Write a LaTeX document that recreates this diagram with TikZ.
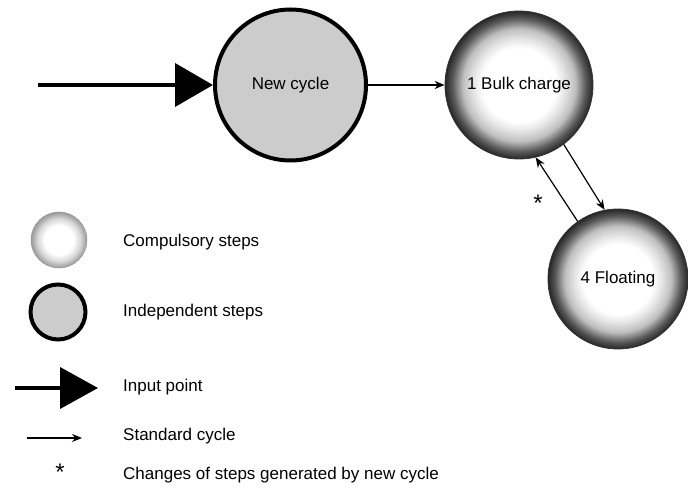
\documentclass[tikz,border=0pt]{standalone}
\usepackage{fontspec}
\setmainfont{Liberation Sans}
\usetikzlibrary{positioning, arrows.meta}

\pgfdeclareradialshading{stepshade}{\pgfpoint{0bp}{0bp}}{%
  color(0bp)=(white); color(12.5bp)=(white); color(15.5bp)=(gray!20);
  color(19bp)=(gray!50); color(22.5bp)=(black!65); color(25bp)=(black!85);
  color(50bp)=(black!85)}
\pgfdeclareradialshading{legshade}{\pgfpoint{0bp}{0bp}}{%
  color(0bp)=(white); color(13bp)=(white); color(19bp)=(gray!30);
  color(25bp)=(gray!80); color(50bp)=(gray!80)}

\begin{document}
\begin{tikzpicture}[x=1pt, y=-1pt,
  every node/.style={font=\fontsize{17}{20}\selectfont},
  comp/.style={circle, shading=stepshade, draw=black!80, line width=0.8pt, inner sep=0pt},
  indep/.style={circle, draw, fill=gray!40, line width=4pt, inner sep=0pt},
  lbl/.style={anchor=west, inner sep=0pt},
  mark star/.style={inner sep=0pt, font=\fontsize{24}{26}\selectfont},
  arr/.style={-{Stealth[length=10pt, width=8pt]}, line width=1.2pt},
  inarr/.style={-{Triangle[length=38pt, width=43pt]}, line width=4pt}
]
  \useasboundingbox (0,0) rectangle (688,497);

  % cycle
  \node[indep, minimum size=151pt] (new) at (290.5,85) {New cycle};
  \node[comp, minimum size=148pt] (bulk) at (519,85) {\raisebox{-3pt}{1 Bulk charge}};
  \node[comp, minimum size=140pt] (float) at (618,279) {4 Floating};
  \coordinate (in) at (38,85);

  \draw[inarr] (in) -- (new);
  \draw[arr] (new) -- (bulk);
  \draw[arr] (bulk.-53) -- (float.101);
  \draw[arr] (float.125) -- (bulk.-77);
  \node[mark star] (star) at (538,203) {*};

  % legend
  \node[comp, shading=legshade, draw=gray!80, line width=0.5pt, minimum size=56pt] (legcomp) at (59,240) {};
  \node[indep, minimum size=55pt] (legindep) at (58,312) {};
  \coordinate (legin1) at (15,388);
  \coordinate (legin2) at (98,388);
  \coordinate (legarr1) at (27,438);
  \coordinate (legarr2) at (82,438);
  \node[mark star] (legstar) at (60,472) {*};

  \draw[inarr, -{Triangle[length=38pt, width=41pt]}] (legin1) -- (legin2);
  \draw[arr] (legarr1) -- (legarr2);

  \node[lbl] (tcomp) at (123,242) {Compulsory steps};
  \node[lbl] (tindep) at (123,312) {Independent steps};
  \node[lbl] (tin) at (123,387) {Input point};
  \node[lbl] (tstd) at (123,436) {Standard cycle};
  \node[lbl] (tchg) at (123,475) {Changes of steps generated by new cycle};
\end{tikzpicture}
\end{document}
